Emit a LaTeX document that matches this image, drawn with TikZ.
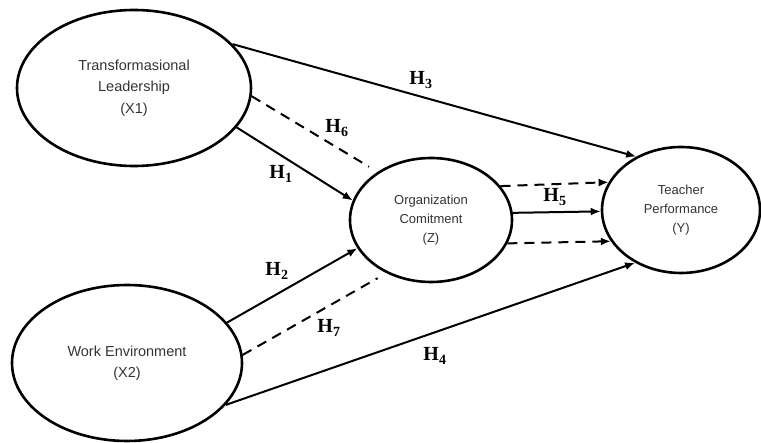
\documentclass[tikz,border=0pt]{standalone}
\usepackage{fontspec}
\setmainfont{Liberation Sans}
\newfontfamily\hypfont{Liberation Serif}
\usepackage{tikz}
\usetikzlibrary{shapes.geometric,arrows.meta}

\begin{document}
\begin{tikzpicture}[x=1pt,y=-1pt,
    construct/.style={ellipse,draw,line width=2.6pt,align=center,text=black!80},
    bigtext/.style={font=\fontsize{14.5}{21.5}\selectfont},
    smalltext/.style={font=\fontsize{13}{19}\selectfont},
    link/.style={line width=2pt,-{Latex[length=10pt,width=8pt]}},
    medlink/.style={line width=2pt,dash pattern=on 10pt off 7pt},
    hyp/.style={font=\hypfont\fontsize{20}{24}\selectfont\bfseries,inner sep=0pt}]
    \useasboundingbox (0,0) rectangle (761,443);
    % constructs
    \node[construct,bigtext,minimum width=234pt,minimum height=156pt] (x1) at (134,88) {Transformasional\\Leadership\\(X1)};
    \node[construct,bigtext,minimum width=230pt,minimum height=156pt] (x2) at (127,363) {Work Environment\\(X2)};
    \node[construct,smalltext,minimum width=162pt,minimum height=124pt] (z) at (431,220) {Organization\\Comitment\\(Z)};
    \node[construct,smalltext,minimum width=158pt,minimum height=126pt] (y) at (681,210) {Teacher\\Performance\\(Y)};
    % direct paths
    \draw[link] (x1.24) -- (y.130);
    \draw[link] (x1.-21) -- (z.166);
    \draw[link] (x2.22) -- (z.201);
    \draw[link] (x2.-23) -- (y.229);
    \draw[link] (z.5) -- (y.181);
    % mediation paths
    \draw[medlink,shorten >=10pt] (x1.-4) -- (z.138);
    \draw[medlink,shorten >=10pt] (x2.4) -- (z.230);
    \draw[medlink,-{Latex[length=10pt,width=8pt]}] (z.26) -- (y.159);
    \draw[medlink,-{Latex[length=10pt,width=8pt]}] (z.-17) -- (y.204);
    % hypotheses
    \node[hyp] (h1) at (281,174) {H\textsubscript{1}};
    \node[hyp] (h2) at (277,271) {H\textsubscript{2}};
    \node[hyp] (h3) at (421,80) {H\textsubscript{3}};
    \node[hyp] (h4) at (435,356) {H\textsubscript{4}};
    \node[hyp] (h5) at (555,197) {H\textsubscript{5}};
    \node[hyp] (h6) at (337,128) {H\textsubscript{6}};
    \node[hyp] (h7) at (329,328) {H\textsubscript{7}};
\end{tikzpicture}
\end{document}
